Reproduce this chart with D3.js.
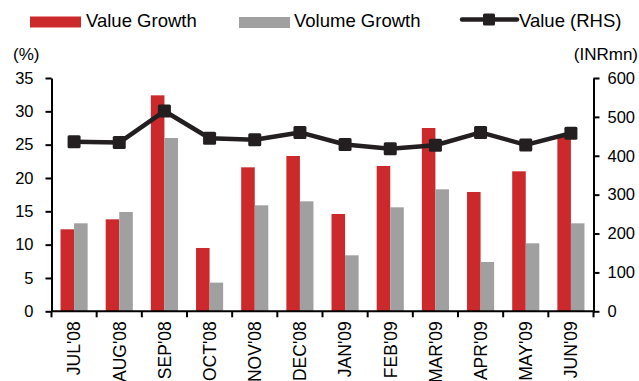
<!DOCTYPE html>
<html>
<head>
<meta charset="utf-8">
<script src="https://cdn.jsdelivr.net/npm/d3@7"></script>
<style>
  html, body { margin: 0; padding: 0; background: #fff; }
  svg { display: block; font-family: "Liberation Sans", Arial, sans-serif; }
</style>
</head>
<body>
<svg id="chart" width="639" height="381"></svg>
<script>
// Monthly data, Jul 2008 - Jun 2009
const months = ["JUL'08", "AUG'08", "SEP'08", "OCT'08", "NOV'08", "DEC'08",
                "JAN'09", "FEB'09", "MAR'09", "APR'09", "MAY'09", "JUN'09"];
const valueGrowth  = [12.3, 13.8, 32.4, 9.5, 21.6, 23.3, 14.6, 21.8, 27.5, 17.9, 21.0, 26.3]; // %
const volumeGrowth = [13.2, 14.9, 26.0, 4.3, 15.9, 16.5, 8.4, 15.6, 18.3, 7.4, 10.2, 13.2];   // %
const valueRHS     = [436, 434, 515, 445, 441, 460, 429, 418, 427, 460, 428, 458];            // INR mn
const leftTicks  = [0, 5, 10, 15, 20, 25, 30, 35];
const rightTicks = [0, 100, 200, 300, 400, 500, 600];

const RED = "#cc292d", GREY = "#a0a0a0", INK = "#231f20";

const svg = d3.select("#chart");
const plot = { left: 51.5, right: 593.5, top: 78, bottom: 311.3 };

const x = d3.scaleBand().domain(months).range([plot.left, plot.right]).padding(0);
const yL = d3.scaleLinear().domain([0, 35]).range([plot.bottom, plot.top]);
const yR = d3.scaleLinear().domain([0, 600]).range([plot.bottom, plot.top]);
const barW = x.bandwidth() * 0.3;
const cx = d => x(d) + x.bandwidth() / 2;

// Bars
svg.append("g").selectAll("rect").data(months).join("rect")
  .attr("x", d => cx(d) - barW).attr("width", barW)
  .attr("y", (d, i) => yL(valueGrowth[i]))
  .attr("height", (d, i) => yL(0) - yL(valueGrowth[i]))
  .attr("fill", RED);
svg.append("g").selectAll("rect").data(months).join("rect")
  .attr("x", d => cx(d)).attr("width", barW)
  .attr("y", (d, i) => yL(volumeGrowth[i]))
  .attr("height", (d, i) => yL(0) - yL(volumeGrowth[i]))
  .attr("fill", GREY);

// Axes
function styleAxis(g) {
  g.selectAll("path, line").attr("stroke", "#000").attr("stroke-width", 2);
  g.selectAll("text").attr("fill", "#000").attr("font-size", 16.5);
}
svg.append("g").attr("transform", `translate(${plot.left},0)`)
  .call(d3.axisLeft(yL).tickValues(leftTicks).tickSize(6).tickSizeOuter(0).tickPadding(12))
  .call(styleAxis);
svg.append("g").attr("transform", `translate(${plot.right},0)`)
  .call(d3.axisRight(yR).tickValues(rightTicks).tickSize(6).tickSizeOuter(0).tickPadding(8))
  .call(styleAxis);

// Category axis: ticks on band edges, rotated labels at band centres
const xg = svg.append("g").attr("transform", `translate(0,${plot.bottom})`);
xg.append("line").attr("x1", plot.left).attr("x2", plot.right)
  .attr("stroke", "#000").attr("stroke-width", 2);
xg.selectAll("line.edge").data(months.concat([null])).join("line").attr("class", "edge")
  .attr("x1", d => d === null ? plot.right : x(d))
  .attr("x2", d => d === null ? plot.right : x(d))
  .attr("y1", 0).attr("y2", 6).attr("stroke", "#000").attr("stroke-width", 2);
xg.selectAll("text").data(months).join("text")
  .attr("transform", d => `translate(${cx(d)},0) rotate(-90)`)
  .attr("x", -10).attr("dy", "0.36em")
  .attr("text-anchor", "end").attr("font-size", 17.5).attr("fill", "#000")
  .text(d => d);

// Value line with square markers
const line = d3.line().x((d, i) => cx(months[i])).y(d => yR(d));
svg.append("path").datum(valueRHS).attr("d", line)
  .attr("fill", "none").attr("stroke", INK).attr("stroke-width", 4.5)
  .attr("stroke-linejoin", "round");
const mk = 13;
svg.append("g").selectAll("rect").data(valueRHS).join("rect")
  .attr("x", (d, i) => cx(months[i]) - mk / 2).attr("y", d => yR(d) - mk / 2)
  .attr("width", mk).attr("height", mk).attr("rx", 1.5).attr("fill", INK);

// Axis titles
svg.append("text").attr("x", 13).attr("y", 60).attr("font-size", 17).text("(%)");
svg.append("text").attr("x", 638).attr("y", 60).attr("font-size", 17)
  .attr("text-anchor", "end").text("(INRmn)");

// Legend
const lg = svg.append("g").attr("font-size", 18.5).attr("fill", "#000");
lg.append("rect").attr("x", 30).attr("y", 16.5).attr("width", 51).attr("height", 11).attr("fill", RED);
lg.append("text").attr("x", 86).attr("y", 27).text("Value Growth");
lg.append("rect").attr("x", 239).attr("y", 17).attr("width", 51).attr("height", 11).attr("fill", GREY);
lg.append("text").attr("x", 294).attr("y", 27).text("Volume Growth");
lg.append("line").attr("x1", 462).attr("x2", 517).attr("y1", 19.5).attr("y2", 19.5)
  .attr("stroke", INK).attr("stroke-width", 4.5).attr("stroke-linecap", "round");
lg.append("rect").attr("x", 483).attr("y", 13.5).attr("width", 12).attr("height", 12)
  .attr("rx", 1.5).attr("fill", INK);
lg.append("text").attr("x", 519).attr("y", 27).text("Value (RHS)");
</script>
</body>
</html>
